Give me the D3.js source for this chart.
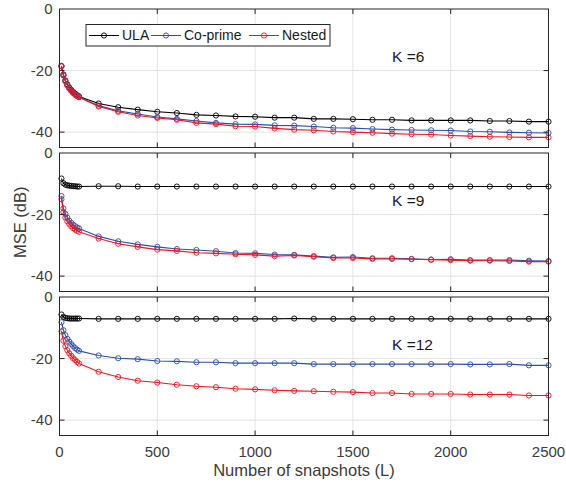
<!DOCTYPE html>
<html>
<head>
<meta charset="utf-8">
<script src="https://cdn.jsdelivr.net/npm/d3@7"></script>
<style>
  body { margin: 0; background: #fff; }
  svg { display: block; font-family: "Liberation Sans", Arial, sans-serif; }
</style>
</head>
<body>
<svg id="chart" width="566" height="482"></svg>
<script>
// snapshots L
const snapshots = [10, 20, 30, 40, 50, 60, 70, 80, 90, 100,
	200, 300, 400, 500, 600, 700, 800, 900, 1000, 1100,
	1200, 1300, 1400, 1500, 1600, 1700, 1800, 1900, 2000, 2100, 2200, 2300, 2400, 2500];

const xTicks = [0, 500, 1000, 1500, 2000, 2500];
const yTicks = [0, -20, -40];
const seriesNames = ['ULA', 'Co-prime', 'Nested'];
const panelLabels = ['K =6', 'K =9', 'K =12'];

// K = 6
const ula6 = [-18.5, -21.3, -23.2, -24.5, -25.5, -26.3, -27.0, -27.5, -28.0, -28.4,
	-30.7, -31.9, -32.7, -33.4, -33.8, -34.4, -34.6, -34.9, -35.0, -35.3,
	-35.3, -35.7, -35.7, -35.8, -36.0, -36.0, -36.2, -36.2, -36.2, -36.2, -36.4, -36.4, -36.6, -36.6];
const cop6 = [-18.6, -21.5, -23.4, -24.7, -25.7, -26.5, -27.2, -27.7, -28.2, -28.6,
	-31.4, -33.1, -34.1, -35.1, -35.7, -36.4, -37.0, -37.4, -37.5, -37.8,
	-37.9, -38.2, -38.6, -38.7, -39.0, -39.2, -39.3, -39.4, -39.5, -39.8, -39.9, -40.1, -40.2, -40.3];
const nes6 = [-18.6, -21.6, -23.5, -24.8, -25.8, -26.6, -27.3, -27.9, -28.3, -28.7,
	-31.7, -33.4, -34.6, -35.4, -36.0, -37.0, -37.4, -38.1, -38.2, -38.8,
	-39.2, -39.4, -39.8, -40.0, -40.2, -40.5, -40.7, -40.8, -41.1, -41.3, -41.5, -41.6, -41.7, -41.7];

// K = 9
const ula9 = [-8.3, -9.8, -10.3, -10.5, -10.6, -10.7, -10.8, -10.8, -10.9, -10.9,
	-10.8, -10.8, -10.9, -10.9, -10.9, -10.9, -10.9, -10.9, -10.9, -10.9,
	-10.9, -10.9, -10.9, -10.9, -10.9, -10.9, -10.9, -10.9, -10.9, -10.9, -10.9, -10.9, -10.9, -10.9];
const cop9 = [-14.0, -18.0, -19.8, -21.0, -22.0, -22.7, -23.3, -23.8, -24.2, -24.5,
	-27.1, -28.7, -29.7, -30.5, -31.2, -31.5, -31.9, -32.5, -32.6, -33.0,
	-33.1, -33.5, -33.9, -33.8, -34.2, -34.2, -34.4, -34.6, -34.5, -34.8, -34.8, -34.8, -35.0, -35.1];
const nes9 = [-15.0, -19.2, -21.0, -22.2, -23.1, -23.8, -24.4, -24.9, -25.3, -25.6,
	-27.8, -29.5, -30.5, -31.4, -31.8, -32.4, -32.6, -32.9, -33.1, -33.5,
	-33.3, -33.7, -34.1, -34.1, -34.4, -34.4, -34.5, -34.7, -34.8, -35.0, -35.0, -35.1, -35.3, -35.3];

// K = 12
const ula12 = [-5.7, -6.5, -6.8, -6.9, -7.0, -7.0, -7.0, -7.0, -7.0, -7.0,
	-7.1, -7.1, -7.1, -7.1, -7.1, -7.1, -7.1, -7.1, -7.1, -7.1,
	-7.0, -7.1, -7.1, -7.1, -7.1, -7.1, -7.1, -7.1, -7.1, -7.1, -7.1, -7.1, -7.1, -7.1];
const cop12 = [-8.2, -10.8, -12.4, -13.6, -14.5, -15.3, -16.0, -16.6, -17.1, -17.5,
	-19.0, -19.9, -20.2, -20.8, -20.9, -21.2, -21.2, -21.5, -21.5, -21.5,
	-21.5, -21.8, -21.8, -21.8, -21.8, -21.8, -21.8, -21.8, -21.8, -21.9, -21.9, -21.8, -22.2, -22.2];
const nes12 = [-11.2, -14.2, -16.0, -17.3, -18.3, -19.1, -19.9, -20.5, -21.1, -21.6,
	-24.3, -26.0, -27.2, -27.8, -28.5, -29.0, -29.3, -29.8, -30.0, -30.3,
	-30.5, -30.6, -30.8, -30.9, -31.2, -31.2, -31.5, -31.5, -31.5, -31.7, -31.7, -31.7, -32.0, -32.0];

const panels = [
	{ label: panelLabels[0], series: [ula6, cop6, nes6] },
	{ label: panelLabels[1], series: [ula9, cop9, nes9] },
	{ label: panelLabels[2], series: [ula12, cop12, nes12] }
];

const colors = ['#000000', '#2c4fae', '#f0141e'];
const axisColor = '#262626';
const textColor = '#3c3c3c';

const svg = d3.select('#chart');
const left = 59.5, right = 548.5;
const panelTops = [9, 153, 297];
const panelH = 138.5;
const tickLen = 5;

const x = d3.scaleLinear().domain([0, 2500]).range([left, right]);

panels.forEach((p, i) => {
	const top = panelTops[i];
	const y = d3.scaleLinear().domain([-45, 0]).range([top + panelH, top]);
	const g = svg.append('g');

	// grid
	g.selectAll('.vgrid').data(xTicks.slice(1, -1)).join('line')
		.attr('x1', d => x(d)).attr('x2', d => x(d))
		.attr('y1', top).attr('y2', top + panelH)
		.attr('stroke', '#e3e3e3').attr('stroke-width', 1);
	g.selectAll('.hgrid').data(yTicks.slice(1)).join('line')
		.attr('x1', left).attr('x2', right)
		.attr('y1', d => y(d)).attr('y2', d => y(d))
		.attr('stroke', '#e3e3e3').attr('stroke-width', 1);

	// lines + markers
	const line = d3.line().x((d, j) => x(snapshots[j])).y(d => y(d));
	p.series.forEach((vals, s) => {
		g.append('path').datum(vals)
			.attr('d', line)
			.attr('fill', 'none')
			.attr('stroke', colors[s])
			.attr('stroke-width', 1.1);
		g.selectAll(null).data(vals).join('circle')
			.attr('cx', (d, j) => x(snapshots[j]))
			.attr('cy', d => y(d))
			.attr('r', 2.6)
			.attr('fill', 'none')
			.attr('stroke', colors[s])
			.attr('stroke-width', 0.9);
	});

	// box
	g.append('rect')
		.attr('x', left).attr('y', top)
		.attr('width', right - left).attr('height', panelH)
		.attr('fill', 'none').attr('stroke', axisColor).attr('stroke-width', 1);

	// inward ticks
	xTicks.slice(1, -1).forEach(t => {
		g.append('line').attr('x1', x(t)).attr('x2', x(t))
			.attr('y1', top + panelH).attr('y2', top + panelH - tickLen)
			.attr('stroke', axisColor);
		g.append('line').attr('x1', x(t)).attr('x2', x(t))
			.attr('y1', top).attr('y2', top + tickLen)
			.attr('stroke', axisColor);
	});
	yTicks.slice(1).forEach(t => {
		g.append('line').attr('x1', left).attr('x2', left + tickLen)
			.attr('y1', y(t)).attr('y2', y(t)).attr('stroke', axisColor);
		g.append('line').attr('x1', right).attr('x2', right - tickLen)
			.attr('y1', y(t)).attr('y2', y(t)).attr('stroke', axisColor);
	});

	// y tick labels
	g.selectAll('.ylab').data(yTicks).join('text')
		.attr('x', left - 7)
		.attr('y', d => y(d))
		.attr('dy', '0.35em')
		.attr('text-anchor', 'end')
		.style('font-size', '15px')
		.style('fill', textColor)
		.text(d => d);

	// K label
	g.append('text')
		.attr('x', x(1700)).attr('y', y(-15.5))
		.attr('dy', '0.35em')
		.style('font-size', '15.5px')
		.style('fill', '#1a1a1a')
		.text(p.label);

	if (i === 2) {
		g.selectAll('.xlab').data(xTicks).join('text')
			.attr('x', d => x(d))
			.attr('y', top + panelH + 16)
			.attr('dy', '0.35em')
			.attr('text-anchor', 'middle')
			.style('font-size', '15px')
			.style('fill', textColor)
			.text(d => d);
	}
});

// axis titles
svg.append('text')
	.attr('x', (left + right) / 2).attr('y', 470)
	.attr('dy', '0.35em')
	.attr('text-anchor', 'middle')
	.style('font-size', '16.5px')
	.style('fill', textColor)
	.text('Number of snapshots (L)');

svg.append('text')
	.attr('transform', `translate(20, ${(panelTops[0] + panelTops[2] + panelH) / 2}) rotate(-90)`)
	.attr('dy', '0.35em')
	.attr('text-anchor', 'middle')
	.style('font-size', '16.5px')
	.style('fill', textColor)
	.text('MSE (dB)');

// legend
const legend = svg.append('g');
legend.append('rect')
	.attr('x', 86).attr('y', 24.5).attr('width', 244).attr('height', 21.5)
	.attr('fill', '#fff').attr('stroke', axisColor).attr('stroke-width', 1);
const legendX = [89, 151, 249];
seriesNames.forEach((name, s) => {
	const lx = legendX[s];
	legend.append('line')
		.attr('x1', lx).attr('x2', lx + 30).attr('y1', 35.5).attr('y2', 35.5)
		.attr('stroke', colors[s]).attr('stroke-width', 1);
	legend.append('circle')
		.attr('cx', lx + 15).attr('cy', 35.5).attr('r', 2.6)
		.attr('fill', 'none').attr('stroke', colors[s]).attr('stroke-width', 0.9);
	legend.append('text')
		.attr('x', lx + 33).attr('y', 35.5).attr('dy', '0.35em')
		.style('font-size', '14px')
		.style('fill', '#1a1a1a')
		.text(name);
});
</script>
</body>
</html>
